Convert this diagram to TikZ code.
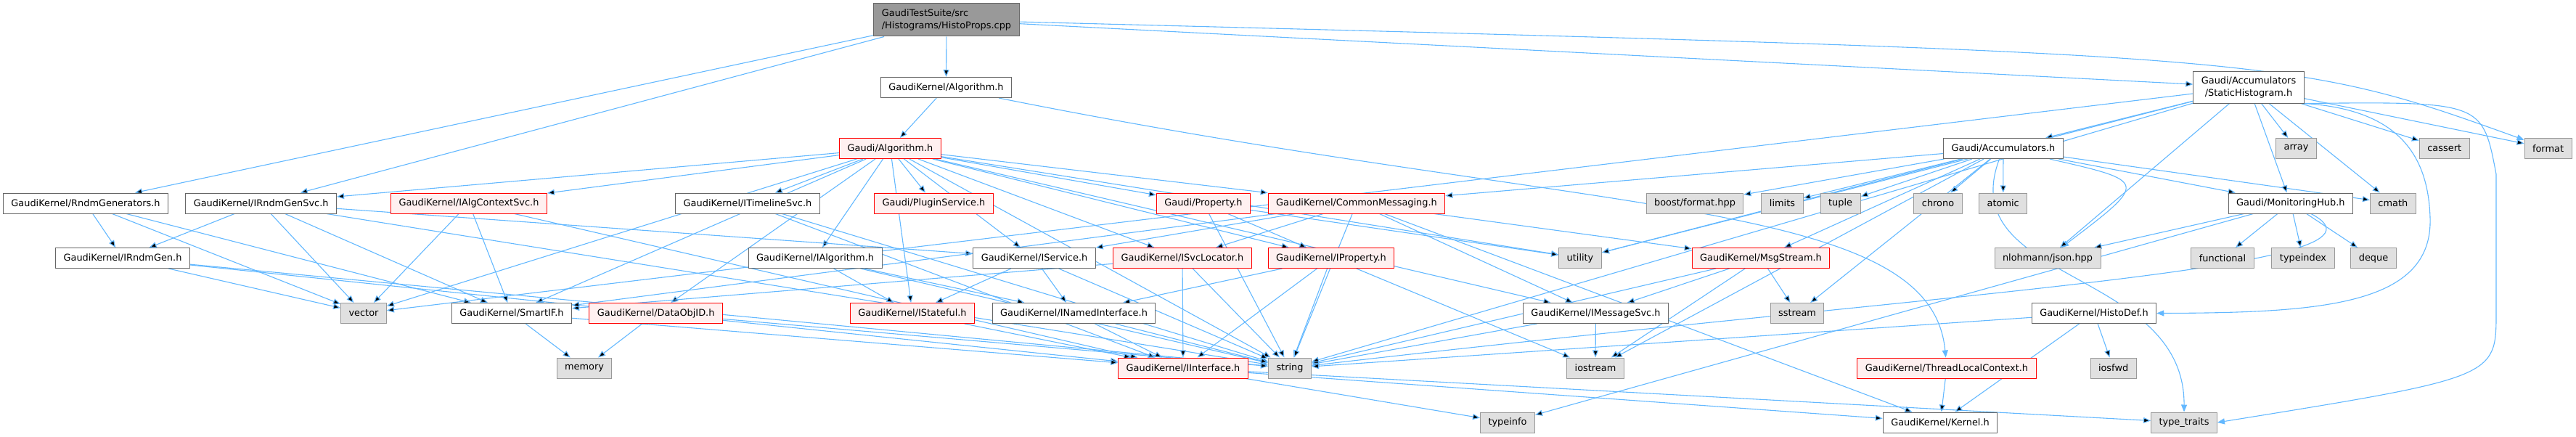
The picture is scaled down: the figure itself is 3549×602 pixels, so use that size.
\documentclass[tikz,border=0pt]{standalone}
\usepackage{fontspec}
\setmainfont{DejaVu Sans}
\usetikzlibrary{arrows.meta,backgrounds}
\definecolor{kante}{HTML}{63B8FF}
\definecolor{rand}{HTML}{666666}
\definecolor{sysrand}{HTML}{999999}
\definecolor{sysfill}{HTML}{E0E0E0}
\definecolor{rotfill}{HTML}{FFF0F0}
\definecolor{wurzel}{HTML}{999999}
\tikzset{
    % standard arrow tip
    >={Triangle[length=10pt,width=8pt]},
    font=\fontsize{12.9}{17}\selectfont,
    % file boxes
    datei/.style={
           rectangle,
           draw=rand, fill=white, line width=1pt,
           inner xsep=11pt, inner ysep=0pt,
           minimum height=28pt},
    rotdatei/.style={datei, draw=red, fill=rotfill},
    sysdatei/.style={datei, draw=sysrand, fill=sysfill},
    quelle/.style={datei, fill=wurzel, align=left, minimum height=45pt},
    % arrow style
    pil/.style={
           ->,
           draw=kante,
           line width=1.1pt}
}
\begin{document}
\begin{tikzpicture}[x=1pt,y=-1pt]
  \useasboundingbox (0,0) rectangle (3549,602);
  % rows 0 - 2
  \node[quelle] (histoprops) at (1304,27.5) {GaudiTestSuite/src\\/Histograms/HistoProps.cpp};
  \node[datei] (gkalgorithm) at (1303.5,120.5) {GaudiKernel/Algorithm.h};
  \node[datei, align=center, minimum height=44pt] (statichisto) at (3098,120) {Gaudi/Accumulators\\/StaticHistogram.h};
  \node[rotdatei] (algorithm) at (1226.5,204.5) {Gaudi/Algorithm.h};
  \node[datei] (accumulators) at (2760,204.5) {Gaudi/Accumulators.h};
  \node[sysdatei] (array) at (3163.5,204.5) {array};
  \node[sysdatei] (cassert) at (3367.7,204.5) {cassert};
  \node[sysdatei] (format) at (3510.5,204.5) {format};
  % row 3
  \node[datei] (rndmgens) at (118,280) {GaudiKernel/RndmGenerators.h};
  \node[datei] (irndmgensvc) at (359.7,280) {GaudiKernel/IRndmGenSvc.h};
  \node[rotdatei] (ialgctxsvc) at (646,280) {GaudiKernel/IAlgContextSvc.h};
  \node[datei] (itimelinesvc) at (1030,280) {GaudiKernel/ITimelineSvc.h};
  \node[rotdatei] (pluginsvc) at (1286.5,280) {Gaudi/PluginService.h};
  \node[rotdatei] (property) at (1658,280) {Gaudi/Property.h};
  \node[rotdatei] (commonmsg) at (1869,280) {GaudiKernel/CommonMessaging.h};
  \node[sysdatei] (boostformat) at (2335,280) {boost/format.hpp};
  \node[sysdatei] (limits) at (2455.5,280) {limits};
  \node[sysdatei] (tuple) at (2535.6,280) {tuple};
  \node[sysdatei] (chrono) at (2670,280) {chrono};
  \node[sysdatei] (atomic) at (2759.7,280) {atomic};
  \node[datei] (monhub) at (3155.8,280) {Gaudi/MonitoringHub.h};
  \node[sysdatei] (cmath) at (3296.8,280) {cmath};
  % row 4
  \node[datei] (irndmgen) at (169,355.5) {GaudiKernel/IRndmGen.h};
  \node[datei] (ialgorithm) at (1123,355.5) {GaudiKernel/IAlgorithm.h};
  \node[datei] (iservice) at (1425,355.5) {GaudiKernel/IService.h};
  \node[rotdatei] (isvclocator) at (1629,355.5) {GaudiKernel/ISvcLocator.h};
  \node[rotdatei] (iproperty) at (1834,355.5) {GaudiKernel/IProperty.h};
  \node[sysdatei] (utility) at (2177,355.5) {utility};
  \node[rotdatei] (msgstream) at (2426,355.5) {GaudiKernel/MsgStream.h};
  \node[sysdatei] (json) at (2821,355.5) {nlohmann/json.hpp};
  \node[sysdatei] (functional) at (3062,355.5) {functional};
  \node[sysdatei] (typeindex) at (3173,355.5) {typeindex};
  \node[sysdatei] (deque) at (3270,355.5) {deque};
  % row 5
  \node[sysdatei] (vector) at (501,431.5) {vector};
  \node[datei] (smartif) at (705,431.5) {GaudiKernel/SmartIF.h};
  \node[rotdatei] (dataobjid) at (903.7,431.5) {GaudiKernel/DataObjID.h};
  \node[rotdatei] (istateful) at (1257,431.5) {GaudiKernel/IStateful.h};
  \node[datei] (inamed) at (1479.5,431.5) {GaudiKernel/INamedInterface.h};
  \node[datei] (imessagesvc) at (2198.4,431.5) {GaudiKernel/IMessageSvc.h};
  \node[sysdatei] (sstream) at (2476,431.5) {sstream};
  \node[datei] (histodef) at (2885,431.5) {GaudiKernel/HistoDef.h};
  % row 6
  \node[sysdatei] (memory) at (805,507) {memory};
  \node[rotdatei] (iinterface) at (1630,507) {GaudiKernel/IInterface.h};
  \node[sysdatei] (string) at (1777,507) {string};
  \node[sysdatei] (iostream) at (2198,507) {iostream};
  \node[rotdatei] (threadctx) at (2682,507) {GaudiKernel/ThreadLocalContext.h};
  \node[sysdatei] (iosfwd) at (2911.6,507) {iosfwd};
  % row 7
  \node[sysdatei] (typeinfo) at (2077,582) {typeinfo};
  \node[datei] (kernel) at (2673,582) {GaudiKernel/Kernel.h};
  \node[sysdatei] (typetraits) at (3009,582) {type\_traits};

  \begin{pgfonlayer}{background}
  % curved connectors round the right side
  \draw[pil] (histoprops) .. controls (3150,75) .. (format);
  \draw[pil] (statichisto.south east) .. controls (3420,140) .. (3439,240) -- (3439,430) .. controls (3439,520) .. (typetraits.east);
  \draw[pil] (statichisto.south east) .. controls (3290,150) and (3345,200) .. (3348,300) .. controls (3352,420) and (3200,431) .. (histodef.east);
  \draw[pil] (accumulators) .. controls (2960,250) .. (json);
  \draw[pil] (accumulators) .. controls (2690,390) and (3010,370) .. (typetraits.north);
  \draw[pil] (monhub) .. controls (3330,370) and (2700,400) .. (string);
  \draw[pil] (gkalgorithm) .. controls (2200,300) and (2660,270) .. (threadctx);
  \path[pil]
    (histoprops) edge (rndmgens)
    (histoprops) edge (irndmgensvc)
    (histoprops) edge (gkalgorithm)
    (histoprops) edge (statichisto)
    (gkalgorithm) edge (algorithm)
    (algorithm) edge (irndmgensvc)
    (algorithm) edge (ialgctxsvc)
    (algorithm) edge (itimelinesvc)
    (algorithm) edge (pluginsvc)
    (algorithm) edge (property)
    (algorithm) edge (commonmsg)
    (algorithm) edge (dataobjid)
    (algorithm) edge (ialgorithm)
    (algorithm) edge (iservice)
    (algorithm) edge (isvclocator)
    (algorithm) edge (istateful)
    (algorithm) edge (smartif)
    (algorithm) edge (vector)
    (algorithm) edge (string)
    (algorithm) edge (utility)
    (algorithm) edge (imessagesvc)
    (algorithm) edge (iproperty)
    (rndmgens) edge (irndmgen)
    (rndmgens) edge (vector)
    (rndmgens) edge (smartif)
    (irndmgensvc) edge (irndmgen)
    (irndmgensvc) edge (vector)
    (irndmgensvc) edge (smartif)
    (irndmgensvc) edge (iservice)
    (irndmgensvc) edge (string)
    (irndmgen) edge (vector)
    (irndmgen) edge (iinterface)
    (irndmgen) edge (string)
    (ialgctxsvc) edge (iinterface)
    (ialgctxsvc) edge (smartif)
    (ialgctxsvc) edge (vector)
    (itimelinesvc) edge (iinterface)
    (itimelinesvc) edge (string)
    (smartif) edge (memory)
    (smartif) edge (iinterface)
    (dataobjid) edge (memory)
    (dataobjid) edge (string)
    (ialgorithm) edge (istateful)
    (ialgorithm) edge (inamed)
    (ialgorithm) edge (string)
    (iservice) edge (istateful)
    (iservice) edge (inamed)
    (iservice) edge (string)
    (isvclocator) edge (iinterface)
    (isvclocator) edge (string)
    (isvclocator) edge (smartif)
    (iproperty) edge (inamed)
    (iproperty) edge (iinterface)
    (iproperty) edge (string)
    (iproperty) edge (iostream)
    (property) edge (iproperty)
    (property) edge (utility)
    (property) edge (string)
    (commonmsg) edge (imessagesvc)
    (commonmsg) edge (msgstream)
    (commonmsg) edge (isvclocator)
    (commonmsg) edge (iservice)
    (commonmsg) edge (smartif)
    (commonmsg) edge (string)
    (commonmsg) edge (kernel)
    (istateful) edge (iinterface)
    (inamed) edge (iinterface)
    (inamed) edge (string)
    (iinterface) edge (typeinfo)
    (iinterface) edge (kernel)
    (iinterface) edge (typetraits)
    (imessagesvc) edge (string)
    (imessagesvc) edge (iostream)
    (msgstream) edge (imessagesvc)
    (msgstream) edge (sstream)
    (msgstream) edge (string)
    (msgstream) edge (iostream)
    (accumulators) edge (commonmsg)
    (accumulators) edge (msgstream)
    (accumulators) edge (monhub)
    (accumulators) edge (boostformat)
    (accumulators) edge (limits)
    (accumulators) edge (tuple)
    (accumulators) edge (chrono)
    (accumulators) edge (atomic)
    (accumulators) edge (utility)
    (accumulators) edge (sstream)
    (accumulators) edge (iostream)
    (accumulators) edge (cmath)
    (statichisto) edge (accumulators)
    (statichisto) edge (array)
    (statichisto) edge (cassert)
    (statichisto) edge (format)
    (statichisto) edge (cmath)
    (statichisto) edge (monhub)
    (statichisto) edge (json)
    (statichisto) edge (utility)
    (statichisto) edge (string)
    (statichisto) edge (vector)
    (monhub) edge (json)
    (monhub) edge (functional)
    (monhub) edge (typeindex)
    (monhub) edge (deque)
    (monhub) edge (typeinfo)
    (histodef) edge (string)
    (histodef) edge (iosfwd)
    (histodef) edge (kernel)
    (threadctx) edge (kernel);
  \end{pgfonlayer}
\end{tikzpicture}
\end{document}
